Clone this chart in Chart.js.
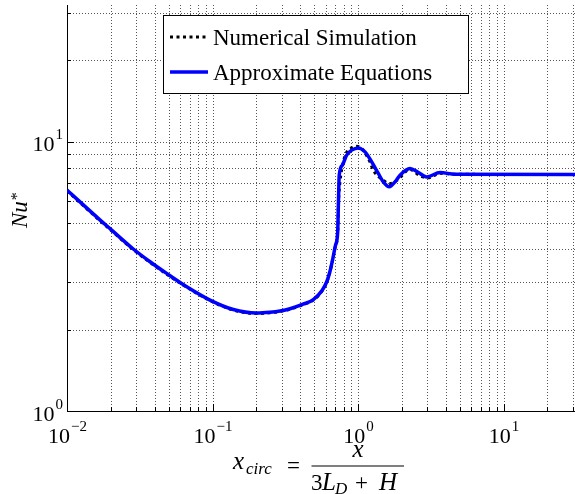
<!DOCTYPE html>
<html><head><meta charset="utf-8">
<script src="https://cdn.jsdelivr.net/npm/chart.js@4/dist/chart.umd.min.js"></script>
<style>html,body{margin:0;padding:0;background:#fff;}canvas{display:block;}</style>
</head><body>
<canvas id="c" width="575" height="494"></canvas>
<script>
// ---- data ----
const seriesNames = ['Numerical Simulation', 'Approximate Equations'];
const approxX = [0.01, 0.0169, 0.0201, 0.0284, 0.0372, 0.0484, 0.0665, 0.0961, 0.139, 0.201, 0.248, 0.291, 0.341, 0.419, 0.493, 0.566, 0.612, 0.642, 0.673, 0.700, 0.725, 0.734, 0.743, 0.781, 0.836, 0.905, 1.005, 1.117, 1.242, 1.379, 1.493, 1.641, 1.796, 1.944, 2.277, 2.585, 2.966, 3.662, 4.64, 31];
const approxY = [6.60, 5.11, 4.71, 4.00, 3.58, 3.24, 2.89, 2.58, 2.38, 2.31, 2.325, 2.35, 2.395, 2.49, 2.59, 2.80, 3.03, 3.30, 3.70, 4.12, 4.61, 6.00, 7.50, 8.17, 8.90, 9.29, 9.47, 9.15, 8.40, 7.61, 7.08, 6.79, 7.08, 7.50, 7.94, 7.69, 7.39, 7.67, 7.56, 7.54];
const numX = [0.01, 0.0169, 0.0201, 0.0284, 0.0372, 0.0484, 0.0665, 0.0961, 0.139, 0.201, 0.248, 0.291, 0.341, 0.419, 0.493, 0.566, 0.612, 0.642, 0.673, 0.700, 0.725, 0.734, 0.752, 0.793, 0.853, 0.905, 0.973, 1.065, 1.209, 1.274, 1.493, 1.659, 1.851, 2.277, 2.667, 3.03, 3.662, 4.64, 31];
const numY = [6.56, 5.08, 4.68, 3.98, 3.56, 3.22, 2.88, 2.57, 2.37, 2.30, 2.315, 2.34, 2.385, 2.48, 2.58, 2.79, 3.02, 3.29, 3.69, 4.11, 4.60, 5.90, 7.08, 8.40, 9.29, 9.47, 9.61, 9.40, 8.40, 7.83, 7.18, 6.98, 7.18, 7.87, 7.46, 7.33, 7.62, 7.56, 7.54];
const xDecades = [-2, -1, 0, 1];   // tick labels 10^-2 ... 10^1
const yDecades = [0, 1];           // tick labels 10^0, 10^1
const xRange = [0.01, 31];
const yRange = [1, 32.1];

function logTicks(lo, hi) {
  const out = [];
  for (let e = Math.floor(Math.log10(lo)); e <= Math.ceil(Math.log10(hi)); e++) {
    for (let m = 1; m <= 9; m++) {
      const v = parseFloat((m * Math.pow(10, e)).toPrecision(6));
      if (v >= lo * 0.9999 && v <= hi * 1.0001) out.push({value: v});
    }
  }
  return out;
}
function isPow10(v) { const l = Math.log10(v); return Math.abs(l - Math.round(l)) < 1e-6; }
const toPts = (xs, ys) => xs.map((x, i) => ({x, y: ys[i]}));

const serif = '"Liberation Serif", "DejaVu Serif", serif';
const supMinus = '\u2212';

const gridPlugin = {
  id: 'dottedGrid',
  beforeDatasetsDraw(chart) {
    const {ctx, chartArea: a, scales: {x, y}} = chart;
    ctx.save();
    ctx.strokeStyle = '#555'; ctx.lineWidth = 1; ctx.setLineDash([1, 2]);
    x.ticks.forEach(t => {
      const px = Math.round(x.getPixelForValue(t.value)) + 0.5;
      if (px < a.left + 1) return;
      ctx.beginPath(); ctx.moveTo(px, a.bottom); ctx.lineTo(px, a.top); ctx.stroke();
    });
    y.ticks.forEach(t => {
      const py = Math.round(y.getPixelForValue(t.value)) + 0.5;
      if (py > a.bottom - 1) return;
      ctx.beginPath(); ctx.moveTo(a.left, py); ctx.lineTo(a.right, py); ctx.stroke();
    });
    ctx.restore();
  }
};

const overlay = {
  id: 'overlay',
  afterDraw(chart) {
    const {ctx, chartArea: a, scales: {x, y}} = chart;
    ctx.save();
    // inner tick marks
    ctx.strokeStyle = '#000'; ctx.lineWidth = 1;
    x.ticks.forEach(t => {
      const px = Math.round(x.getPixelForValue(t.value)) + 0.5;
      const len = isPow10(t.value) ? 7 : 4;
      ctx.beginPath(); ctx.moveTo(px, a.bottom); ctx.lineTo(px, a.bottom - len); ctx.stroke();
    });
    y.ticks.forEach(t => {
      const py = Math.round(y.getPixelForValue(t.value)) + 0.5;
      const len = isPow10(t.value) ? 7 : 4;
      ctx.beginPath(); ctx.moveTo(a.left, py); ctx.lineTo(a.left + len, py); ctx.stroke();
    });
    ctx.fillStyle = '#000';
    ctx.textBaseline = 'alphabetic';
    ctx.textAlign = 'left';
    const baseF = '22px ' + serif, supF = '15px ' + serif;
    const expStr = e => (e < 0 ? supMinus + Math.abs(e) : String(e));
    // x tick labels
    xDecades.forEach(e => {
      const px = x.getPixelForValue(Math.pow(10, e));
      ctx.font = baseF; const wb = ctx.measureText('10').width;
      ctx.font = supF; const ws = ctx.measureText(expStr(e)).width;
      const x0 = px - (wb + ws) / 2;
      ctx.font = baseF; ctx.fillText('10', x0, a.bottom + 32);
      ctx.font = supF; ctx.fillText(expStr(e), x0 + wb + 1, a.bottom + 20);
    });
    // y tick labels
    yDecades.forEach(e => {
      const py = y.getPixelForValue(Math.pow(10, e));
      ctx.font = supF; const ws = ctx.measureText(expStr(e)).width;
      ctx.font = baseF; const wb = ctx.measureText('10').width;
      const x0 = 63 - ws - 1 - wb;
      ctx.fillText('10', x0, py + 9.5);
      ctx.font = supF; ctx.fillText(expStr(e), x0 + wb + 1, py - 2.5);
    });
    // x axis title: x_circ = x / (3 L_D + H)
    const it = 'italic 25px ' + serif, rm = '23px ' + serif, itS = 'italic 17px ' + serif;
    ctx.font = it; ctx.fillText('x', 233, 469);
    ctx.font = itS; ctx.fillText('circ', 246, 474);
    ctx.font = rm; ctx.fillText('=', 287, 473);
    ctx.fillRect(311.5, 465.5, 92.5, 1);
    ctx.font = it; ctx.textAlign = 'center'; ctx.fillText('x', 358, 457); ctx.textAlign = 'left';
    ctx.font = rm; ctx.fillText('3', 311, 490);
    ctx.font = it; ctx.fillText('L', 322, 490);
    ctx.font = itS; ctx.fillText('D', 335, 494);
    ctx.font = rm; ctx.fillText('+', 355, 490);
    ctx.font = it; ctx.fillText('H', 379, 490);
    // y axis title Nu*
    ctx.save();
    ctx.translate(27, 228); ctx.rotate(-Math.PI / 2);
    ctx.font = 'italic 23px ' + serif; ctx.fillText('Nu', 0, 0);
    const wn = ctx.measureText('Nu').width;
    ctx.font = '16px ' + serif; ctx.fillText('*', wn + 1, -5);
    ctx.restore();
    // legend
    ctx.fillStyle = '#fff'; ctx.fillRect(163.5, 15.5, 305, 78);
    ctx.strokeStyle = '#000'; ctx.lineWidth = 1; ctx.strokeRect(163.5, 15.5, 305, 78);
    const ds = chart.data.datasets;
    const rows = [{d: ds[1], y: 37}, {d: ds[0], y: 72}];
    rows.forEach(r => {
      ctx.save();
      ctx.strokeStyle = r.d.borderColor; ctx.lineWidth = r.d.borderWidth;
      ctx.setLineDash(r.d.borderDash || []);
      ctx.beginPath(); ctx.moveTo(170, r.y); ctx.lineTo(208, r.y); ctx.stroke();
      ctx.restore();
      ctx.fillStyle = '#000'; ctx.font = '23px ' + serif;
      ctx.fillText(r.d.label, 213, r.y + 8);
    });
    ctx.restore();
  }
};

new Chart(document.getElementById('c'), {
  type: 'line',
  data: {
    datasets: [
      {label: seriesNames[1], data: toPts(approxX, approxY), borderColor: '#0000ff', borderWidth: 3.5,
       pointRadius: 0, fill: false, cubicInterpolationMode: 'monotone'},
      {label: seriesNames[0], data: toPts(numX, numY), borderColor: '#000000', borderWidth: 3, borderDash: [3, 3.5],
       pointRadius: 0, fill: false, cubicInterpolationMode: 'monotone'}
    ]
  },
  options: {
    responsive: false, animation: false, devicePixelRatio: 1,
    layout: {padding: {top: 5, right: 0, left: 0, bottom: 0}},
    plugins: {legend: {display: false}, tooltip: {enabled: false}},
    scales: {
      x: {
        type: 'logarithmic', min: xRange[0], max: xRange[1],
        afterBuildTicks: s => { s.ticks = logTicks(xRange[0], xRange[1]); },
        afterFit: s => { s.height = 83; },
        ticks: {display: false, autoSkip: false},
        grid: {display: false},
        border: {display: true, color: '#000', width: 1}
      },
      y: {
        type: 'logarithmic', min: yRange[0], max: yRange[1],
        afterBuildTicks: s => { s.ticks = logTicks(yRange[0], yRange[1]); },
        afterFit: s => { s.width = 67; },
        ticks: {display: false, autoSkip: false},
        grid: {display: false},
        border: {display: true, color: '#000', width: 1}
      }
    }
  },
  plugins: [gridPlugin, overlay]
});
</script>
</body></html>
